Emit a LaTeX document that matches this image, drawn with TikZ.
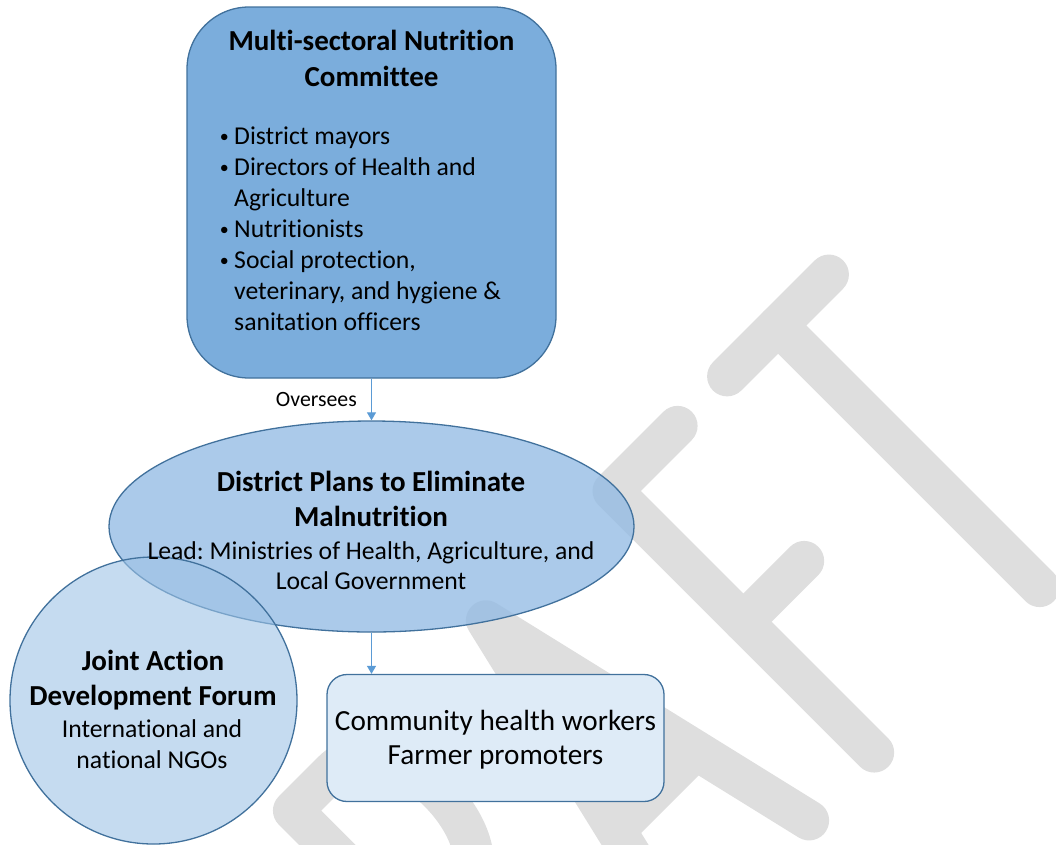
\documentclass[tikz,border=0pt]{standalone}
\usepackage{fontspec}
\setmainfont{Carlito}[Ligatures=NoCommon]
\usetikzlibrary{arrows.meta,shapes.geometric}
\definecolor{edgeblue}{HTML}{41719C}
\definecolor{arrblue}{HTML}{5B9BD5}
\definecolor{topfill}{HTML}{7BADDC}
\definecolor{ellfill}{HTML}{93BBE4}
\definecolor{circfill}{HTML}{9EC3E6}
\definecolor{boxfill}{HTML}{DEEBF7}
\definecolor{wmgray}{HTML}{DEDEDE}
\frenchspacing
\begin{document}
\begin{tikzpicture}[x=1pt,y=-1pt,
  outline/.style={draw=edgeblue, line width=1.3pt, inner sep=0pt},
  txt/.style={inner sep=0pt, anchor=base, text=black},
  ttl/.style={txt, font=\fontsize{29}{35}\selectfont\bfseries},
  body/.style={txt, font=\fontsize{25.7}{31}\selectfont},
  bul/.style={txt, font=\fontsize{18}{22}\selectfont},
  bigbody/.style={txt, font=\fontsize{29.2}{36}\selectfont},
  lbl/.style={txt, font=\fontsize{21.8}{26}\selectfont},
  arr/.style={draw=arrblue, line width=1pt, -{Triangle[width=9pt,length=8pt]}},
  wm/.style={draw=wmgray, line width=40pt, line cap=round, line join=round}]
\useasboundingbox (0,0) rectangle (1056,844);
% watermark "DRAFT"
\begin{scope}
\clip (0,0) rectangle (1056,844);
\begin{scope}[shift={(827.5,827.5)}, x={(0.7071pt,0.7071pt)}, y={(-0.7071pt,0.7071pt)}]
% R
\draw[wm] (-366,20) -- (-366,390) -- (-310,390) .. controls (-230,390) and (-230,210) .. (-310,210) -- (-366,210);
\draw[wm] (-310,210) -- (-225,20);
% A
\draw[wm] (-182,18) -- (-95,388) -- (-8,18);
\draw[wm] (-151,148) -- (-39,148);
% F
\draw[wm] (178,390) -- (86,390) -- (86,20);
\draw[wm] (86,205) -- (172,205);
% T
\draw[wm] (248,390) -- (392,390);
\draw[wm] (320,390) -- (320,20);
\end{scope}
\end{scope}
% shapes
\node[outline, fill=topfill, rounded corners=62pt, minimum width=369pt, minimum height=371pt] (mnc) at (371.5,192.5) {};
\node[outline, ellipse, fill=ellfill, fill opacity=0.78, minimum width=525pt, minimum height=211pt] (plans) at (371.5,526.5) {};
\node[outline, circle, fill=circfill, fill opacity=0.6, minimum size=287pt] (jadf) at (153.5,700.5) {};
\node[outline, rounded corners=20pt, fill=boxfill, minimum width=337pt, minimum height=127pt] (chw) at (495.5,738) {};
% connectors
\draw[arr] (mnc.south) -- (plans.north);
\draw[arr] (plans.south) -- (plans.south |- chw.north);
\node[lbl, anchor=base east] (ovs) at (357,406.7) {Oversees};
% top box text
\node[ttl] (mnc-t1) at (371.5,50.7) {Multi-sectoral Nutrition};
\node[ttl] (mnc-t2) at (371.5,86) {Committee};
\node[bul] (b1) at (224.3,142.5) {•};
\node[body, anchor=base west] (l1) at (234,144) {District mayors};
\node[bul] (b2) at (224.3,173.5) {•};
\node[body, anchor=base west] (l2) at (234,175) {Directors of Health and};
\node[body, anchor=base west] (l2b) at (234,206) {Agriculture};
\node[bul] (b3) at (224.3,235.5) {•};
\node[body, anchor=base west] (l3) at (234,237) {Nutritionists};
\node[bul] (b4) at (224.3,266.5) {•};
\node[body, anchor=base west] (l4) at (234,268) {Social protection,};
\node[body, anchor=base west] (l4b) at (234,299) {veterinary, and hygiene \&};
\node[body, anchor=base west] (l4c) at (234,330) {sanitation officers};
% ellipse text
\node[ttl] (p1) at (371,491) {District Plans to Eliminate};
\node[ttl] (p2) at (371,526.7) {Malnutrition};
\node[body] (p3) at (371,559) {Lead: Ministries of Health, Agriculture, and};
\node[body] (p4) at (371,589) {Local Government};
% circle text
\node[ttl] (j1) at (153,670.7) {Joint Action};
\node[ttl] (j2) at (153,705) {Development Forum};
\node[body] (j3) at (152,737.3) {International and};
\node[body] (j4) at (152,768.3) {national NGOs};
% community box text
\node[bigbody] (c1) at (495.5,730) {Community health workers};
\node[bigbody] (c2) at (495.5,764) {Farmer promoters};
\end{tikzpicture}
\end{document}
